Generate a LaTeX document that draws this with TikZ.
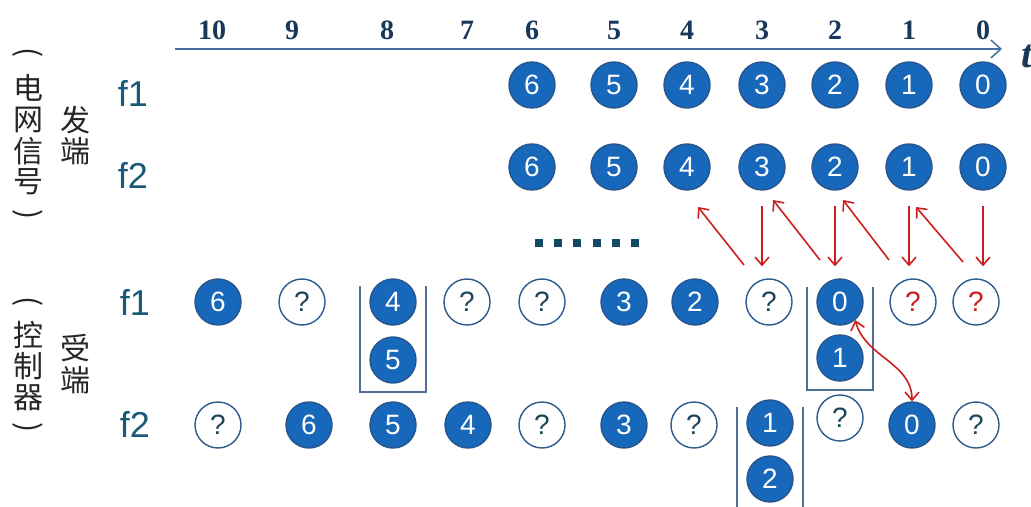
\documentclass[tikz,border=0pt]{standalone}
\usepackage{fontspec}
\setmainfont{Liberation Serif}
\setsansfont{Liberation Sans}
\newfontfamily\cjk{Noto Sans CJK SC}
\usepackage{xcolor}
\usepackage{tikz}
\usetikzlibrary{arrows.meta,fit,calc}
\definecolor{pktblue}{RGB}{23,103,186}
\definecolor{pktedge}{RGB}{40,85,140}
\definecolor{lostedge}{RGB}{45,90,140}
\definecolor{qmark}{RGB}{30,70,90}
\definecolor{lossred}{RGB}{205,30,30}
\definecolor{ticknavy}{RGB}{25,55,90}
\definecolor{flabel}{RGB}{25,90,120}
\definecolor{axisblue}{RGB}{70,110,160}
\definecolor{brkblue}{RGB}{80,110,150}

\begin{document}
\begin{tikzpicture}[x=0.5pt, y=-0.5pt,
  pkt/.style={circle, draw=pktedge, line width=0.7pt, fill=pktblue, minimum size=23pt, inner sep=0pt, text=white, font=\sffamily\fontsize{14}{14}\selectfont},
  lost/.style={circle, draw=lostedge, line width=0.7pt, fill=white, minimum size=23pt, inner sep=0pt, text=qmark, font=\sffamily\fontsize{14}{14}\selectfont},
  lostred/.style={lost, text=lossred},
  tick/.style={font=\bfseries\fontsize{14}{14}\selectfont, text=ticknavy},
  flab/.style={font=\sffamily\fontsize{18}{18}\selectfont, text=flabel},
  cjkch/.style={inner sep=0pt, font=\cjk\fontsize{15}{15}\selectfont, text=black!85},
  vparen/.style={cjkch, rotate=-90},
  axis/.style={draw=axisblue, line width=0.75pt, -{Straight Barb[length=5pt, width=9pt]}},
  rarr/.style={draw=lossred, line width=0.8pt, -{Straight Barb[length=4pt, width=7pt]}},
  brk/.style={draw=brkblue, line width=0.7pt},
  stk/.style={inner xsep=4.5pt, inner ysep=4pt}
]
  \useasboundingbox (0,0) rectangle (1031,507);

  % time axis
  \coordinate (axl) at (175,49);
  \coordinate (axr) at (1002,49);
  \draw[axis] (axl) -- (axr);
  \node[font=\bfseries\itshape\fontsize{20}{20}\selectfont, text=ticknavy] (tlab) at (1027,56) {t};
  \foreach \t/\x in {10/212,9/292,8/387,7/467,6/532,5/614,4/687,3/762,2/835,1/909,0/983}
    \node[tick] (t\t) at (\x,30) {\t};

  % side labels (vertical text)
  \node[vparen] (gridl) at (28,53) {(};
  \foreach \c/\y [count=\i] in {电/88,网/120,信/151,号/182}
    \node[cjkch] (grid\i) at (28,\y) {\c};
  \node[vparen] (gridr) at (28,215) {)};
  \node[cjkch] (send1) at (75,120) {发};
  \node[cjkch] (send2) at (75,151) {端};
  \node[vparen] (ctrll) at (28,302) {(};
  \foreach \c/\y [count=\i] in {控/335,制/366,器/398}
    \node[cjkch] (ctrl\i) at (28,\y) {\c};
  \node[vparen] (ctrlr) at (28,428) {)};
  \node[cjkch] (recv1) at (75,348) {受};
  \node[cjkch] (recv2) at (75,380) {端};

  \node[flab] (sf1) at (133,93) {f1};
  \node[flab] (sf2) at (133,175) {f2};
  \node[flab] (rf1) at (135,302) {f1};
  \node[flab] (rf2) at (135,424) {f2};

  % sender packets
  \foreach \n/\x in {6/532,5/614,4/687,3/762,2/835,1/909,0/983} {
    \node[pkt] (sa\n) at (\x,85) {\n};
    \node[pkt] (sb\n) at (\x,167) {\n};
  }

  % ellipsis
  \foreach \i in {0,...,5}
    \fill[flabel!80!black] ({535+19.2*\i},239) rectangle ++(8,8);

  % receiver f1
  \node[pkt] (ra6) at (218,302) {6};
  \node[lost] (raq1) at (302,302) {?};
  \node[pkt] (ra4) at (393,302) {4};
  \node[pkt] (ra5) at (393,360) {5};
  \node[lost] (raq2) at (467,302) {?};
  \node[lost] (raq3) at (542,302) {?};
  \node[pkt] (ra3) at (624,302) {3};
  \node[pkt] (ra2) at (695,302) {2};
  \node[lost] (raq4) at (769,302) {?};
  \node[pkt] (ra0) at (840,302) {0};
  \node[pkt] (ra1) at (840,358) {1};
  \node[lostred] (raq5) at (913,302) {?};
  \node[lostred] (raq6) at (976,302) {?};

  % receiver f2
  \node[lost] (rbq1) at (218,425) {?};
  \node[pkt] (rb6) at (309,425) {6};
  \node[pkt] (rb5) at (393,425) {5};
  \node[pkt] (rb4) at (468,425) {4};
  \node[lost] (rbq2) at (542,425) {?};
  \node[pkt] (rb3) at (624,425) {3};
  \node[lost] (rbq3) at (694,425) {?};
  \node[pkt] (rb1) at (770,423) {1};
  \node[pkt] (rb2) at (770,479) {2};
  \node[lost] (rbq4) at (840,418) {?};
  \node[pkt] (rb0) at (912,425) {0};
  \node[lost] (rbq5) at (976,425) {?};

  % buffers
  \node[stk, fit=(ra4)(ra5)] (buf1) {};
  \node[stk, fit=(ra0)(ra1)] (buf2) {};
  \node[stk, fit=(rb1)(rb2)] (buf3) {};
  \draw[brk] ([yshift=-8pt]buf1.north west) |- (buf1.south east) -- ([yshift=-8pt]buf1.north east);
  \draw[brk] ([yshift=-8.5pt]buf2.north west) |- (buf2.south east) -- ([yshift=-8.5pt]buf2.north east);
  \draw[brk] ([yshift=-8pt]buf3.north west) -- (buf3.north west |- 0,507);
  \draw[brk] ([yshift=-8pt]buf3.north east) -- (buf3.north east |- 0,507);

  % retransmission
  \draw[rarr, shorten <=7.5pt, shorten >=6pt] (sb3.south) -- (sb3.south |- raq4.north);
  \draw[rarr, shorten <=7.5pt, shorten >=6pt] (sb2.south) -- (sb2.south |- ra0.north);
  \draw[rarr, shorten <=7.5pt, shorten >=6pt] (sb1.south) -- (sb1.south |- raq5.north);
  \draw[rarr, shorten <=7.5pt, shorten >=6pt] (sb0.south) -- (sb0.south |- raq6.north);
  \draw[rarr] ([shift={(-25,-37)}]raq4.center) -- ([shift={(11,40)}]sb4.center);
  \draw[rarr] ([shift={(-20,-42)}]ra0.center) -- ([shift={(11,33)}]sb3.center);
  \draw[rarr] ([shift={(-24,-42)}]raq5.center) -- ([shift={(8,33)}]sb2.center);
  \draw[rarr] ([shift={(-13,-40)}]raq6.center) -- ([shift={(7,40)}]sb1.center);
  \draw[rarr, {Straight Barb[length=4pt, width=7pt]}-{Straight Barb[length=4pt, width=7pt]}] (ra0.-50) to[out=-75, in=90] (rb0.north);
\end{tikzpicture}
\end{document}
